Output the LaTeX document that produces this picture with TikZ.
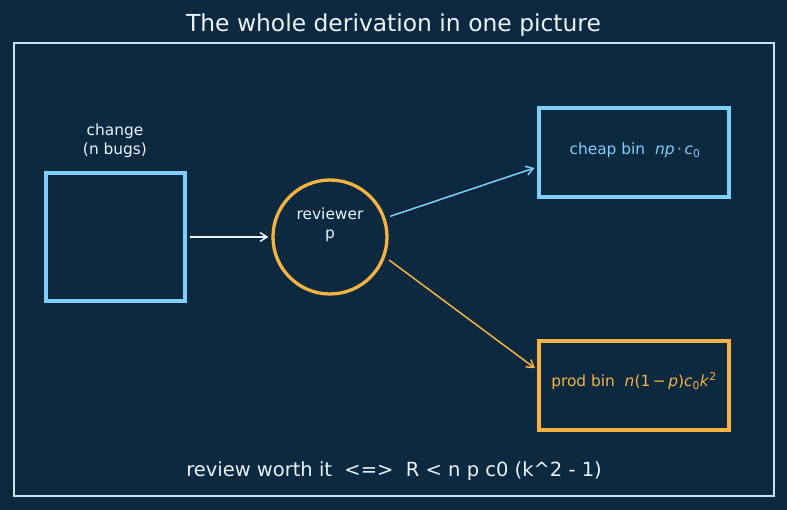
\documentclass[tikz,border=0pt]{standalone}
\usepackage{fontspec}
\setmainfont{DejaVu Sans}
\usetikzlibrary{arrows.meta,calc}
\definecolor{bg}{HTML}{0C2940}
\definecolor{cblue}{HTML}{80CFFA}
\definecolor{corange}{HTML}{F4B342}
\definecolor{cframe}{HTML}{C8E0F0}
\definecolor{ctext}{HTML}{EAF3FA}
\newcommand{\mi}[1]{\textit{#1}}
\tikzset{
  box/.style={draw, line width=3.3pt, rectangle, inner sep=0pt},
  lbl/.style={text=ctext, font=\fontsize{15.4}{18.5}\selectfont, align=center, inner sep=0pt},
  arr/.style={-{Straight Barb[length=7pt,width=9pt]}, line width=1.5pt},
}
\begin{document}
\begin{tikzpicture}[x=1pt,y=-1pt]
\fill[bg] (0,0) rectangle (787,510);
\useasboundingbox (0,0) rectangle (787,510);
\node[text=ctext, font=\fontsize{23.4}{26}\selectfont, inner sep=0pt] (title) at (393.5,25.5) {The whole derivation in one picture};
\node[draw=cframe, line width=1.5pt, rectangle, minimum width=760pt, minimum height=453pt, inner sep=0pt] (frame) at (394,269.5) {};
% change box
\node[box, draw=cblue, minimum width=139pt, minimum height=128pt] (change) at (115.5,237) {};
\node[lbl] (changelbl) at (115,141) {change\\(n bugs)};
% reviewer
\node[draw=corange, line width=3.3pt, circle, minimum size=114pt, inner sep=0pt] (rev) at (330,237) {};
\node[lbl] (revlbl) at (330,225) {reviewer\\p};
% bins
\node[box, draw=cblue, minimum width=190pt, minimum height=89pt] (cheap) at (634,152.5) {};
\node[lbl, text=cblue] (cheaplbl) at (635,150) {cheap bin\ \ \mi{np}\,·\,\mi{c}\textsubscript{0}};
\node[box, draw=corange, minimum width=190pt, minimum height=89pt] (prod) at (634,385.5) {};
\node[lbl, text=corange] (prodlbl) at (634,381) {prod bin\ \ \mi{n}(1\,−\,\mi{p})\mi{c}\textsubscript{0}\mi{k}\textsuperscript{2}};
% arrows
\draw[arr, ctext, shorten <=3pt, shorten >=3pt] (change.east) -- (rev.west);
\draw[arr, cblue, shorten <=5pt, shorten >=3pt] (rev.19.3) -- ([yshift=-14.5pt]cheap.west);
\draw[arr, corange, shorten <=5pt, shorten >=3pt] (rev.-20) -- ([yshift=15.5pt]prod.west);
% bottom
\node[text=ctext, font=\fontsize{19.5}{22}\selectfont, inner sep=0pt] (formula) at (394,471.5) {review worth it\ \ <=>\ \ R < n p c0 (k\^{}2 - 1)};
\end{tikzpicture}
\end{document}
